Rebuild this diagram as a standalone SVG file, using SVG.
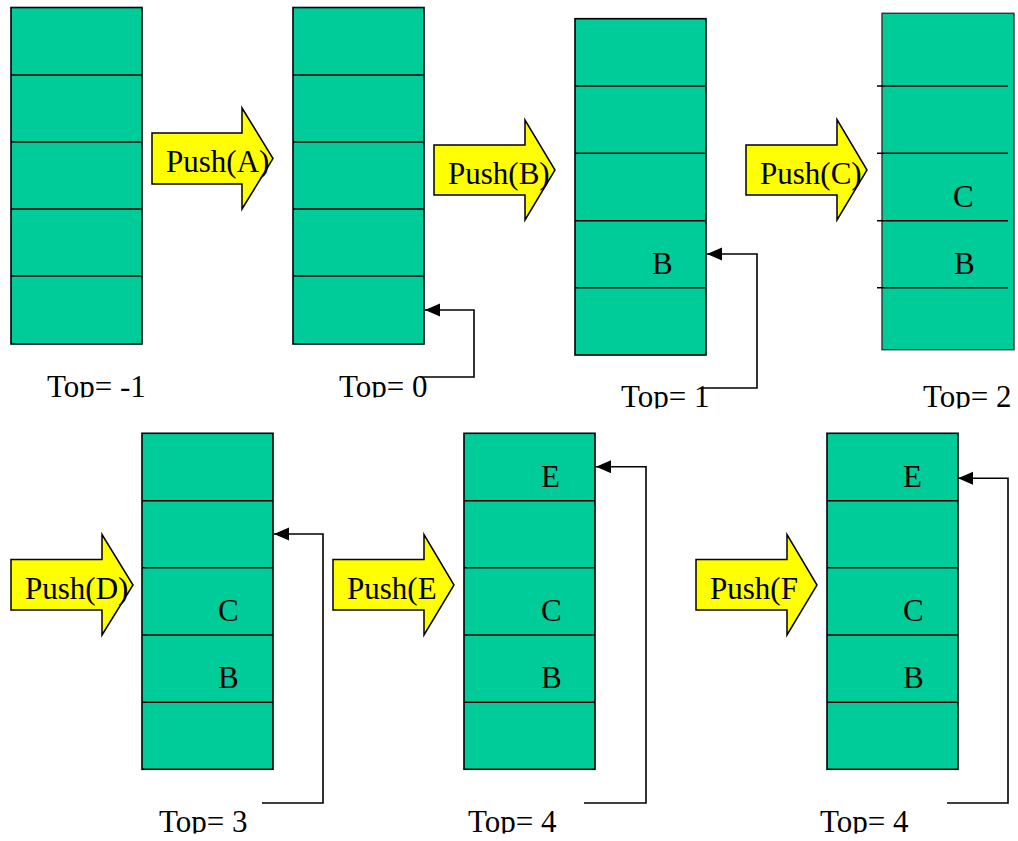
<svg xmlns="http://www.w3.org/2000/svg" width="1018" height="841" viewBox="0 0 1018 841">
<style>
.cell{fill:#00CC99;stroke:#000;stroke-width:1.6}
.div{stroke:#000;stroke-width:1.6}
.push{fill:#FFFF00;stroke:#000;stroke-width:1.5;stroke-linejoin:miter}
text{font-family:'Liberation Serif','Times New Roman',Times,serif;font-size:31px;fill:#000}
.conn{fill:none;stroke:#000;stroke-width:1.6}
</style>
<defs>
<marker id="ah" markerUnits="userSpaceOnUse" markerWidth="16" markerHeight="14" refX="15" refY="6.5" orient="auto">
<path d="M0,0 L15,6.5 L0,13 Z" fill="#000"/>
</marker>
<clipPath id="clipTop1"><rect x="0" y="0" width="1018" height="397.5"/></clipPath>
<clipPath id="clipTop2"><rect x="0" y="0" width="1018" height="408.5"/></clipPath>
<clipPath id="clipBot"><rect x="0" y="0" width="1018" height="833.5"/></clipPath>
</defs>
<rect width="1018" height="841" fill="#fff"/>

<g id="stack1">
<rect class="cell" x="11" y="7.5" width="131" height="336.5"/>
<path class="div" d="M11,75H142M11,142H142M11,209H142M11,276H142"/>
<text font-family="Liberation Serif, serif" x="47" y="397" clip-path="url(#clipTop1)">Top= -1</text>
</g>

<g id="push-a">
<polygon class="push" points="152,133 242,133 242,108 273,158.5 242,209 242,184 152,184"/>
<text font-family="Liberation Serif, serif" x="166" y="172">Push(A)</text>
</g>

<g id="stack2">
<rect class="cell" x="293" y="7.5" width="131" height="336.5"/>
<path class="div" d="M293,75H424M293,142H424M293,209H424M293,276H424"/>
<text font-family="Liberation Serif, serif" x="339" y="397" clip-path="url(#clipTop1)">Top= 0</text>
</g>

<g id="push-b">
<polygon class="push" points="434,145 525,145 525,120 555,170 525,220 525,195 434,195"/>
<text font-family="Liberation Serif, serif" x="448" y="184">Push(B)</text>
</g>

<g id="stack3">
<rect class="cell" x="575" y="18.7" width="131" height="336.3"/>
<path class="div" d="M575,86H706M575,153.3H706M575,220.7H706M575,287.7H706"/>
<text font-family="Liberation Serif, serif" x="652" y="274">B</text>
<text font-family="Liberation Serif, serif" x="621" y="407" clip-path="url(#clipTop2)">Top= 1</text>
</g>

<g id="push-c">
<polygon class="push" points="746,145 837,145 837,119.5 867,170 837,220 837,195 746,195"/>
<text font-family="Liberation Serif, serif" x="760" y="184">Push(C)</text>
</g>

<g id="stack4">
<rect class="cell" x="882" y="13.3" width="132" height="336.4" style="stroke:#333;stroke-width:1.4"/>
<path class="div" d="M877,86H1008M877,153.3H1008M877,220.7H1008M877,287.7H1008"/>
<text font-family="Liberation Serif, serif" x="953" y="207">C</text>
<text font-family="Liberation Serif, serif" x="954" y="274">B</text>
<text font-family="Liberation Serif, serif" x="923" y="407" clip-path="url(#clipTop2)">Top= 2</text>
</g>

<g id="push-d">
<polygon class="push" points="11,559.5 102,559.5 102,534.5 133,585 102,635 102,610 11,610"/>
<text font-family="Liberation Serif, serif" x="25" y="599">Push(D)</text>
</g>

<g id="stack5">
<rect class="cell" x="142" y="433.3" width="131" height="336"/>
<path class="div" d="M142,500.7H273M142,567.7H273M142,635H273M142,702.3H273"/>
<text font-family="Liberation Serif, serif" x="218" y="621">C</text>
<text font-family="Liberation Serif, serif" x="218" y="688.3">B</text>
<text font-family="Liberation Serif, serif" x="159" y="832" clip-path="url(#clipBot)">Top= 3</text>
</g>

<g id="push-e">
<polygon class="push" points="333,559.5 424,559.5 424,534.5 454,585 424,635 424,610 333,610"/>
<text font-family="Liberation Serif, serif" x="347" y="599">Push(E</text>
</g>

<g id="stack6">
<rect class="cell" x="464" y="433.3" width="131" height="336"/>
<path class="div" d="M464,500.7H595M464,567.7H595M464,635H595M464,702.3H595"/>
<text font-family="Liberation Serif, serif" x="541" y="486.7">E</text>
<text font-family="Liberation Serif, serif" x="541" y="621">C</text>
<text font-family="Liberation Serif, serif" x="541" y="688.3">B</text>
<text font-family="Liberation Serif, serif" x="468" y="832" clip-path="url(#clipBot)">Top= 4</text>
</g>

<g id="push-f">
<polygon class="push" points="696,559.5 787,559.5 787,534.5 817,585 787,635 787,610 696,610"/>
<text font-family="Liberation Serif, serif" x="710" y="599">Push(F</text>
</g>

<g id="stack7">
<rect class="cell" x="827" y="433.3" width="131" height="336"/>
<path class="div" d="M827,500.7H958M827,567.7H958M827,635H958M827,702.3H958"/>
<text font-family="Liberation Serif, serif" x="903" y="486.7">E</text>
<text font-family="Liberation Serif, serif" x="903" y="621">C</text>
<text font-family="Liberation Serif, serif" x="903" y="688.3">B</text>
<text font-family="Liberation Serif, serif" x="820" y="832" clip-path="url(#clipBot)">Top= 4</text>
</g>

<g id="connectors">
<polyline class="conn" points="420,377 474,377 474,310 425,310" marker-end="url(#ah)"/>
<polyline class="conn" points="703,388 757,388 757,254 707,254" marker-end="url(#ah)"/>
<polyline class="conn" points="262,803 323,803 323,534 274,534" marker-end="url(#ah)"/>
<polyline class="conn" points="584,803 646,803 646,466.7 596,466.7" marker-end="url(#ah)"/>
<polyline class="conn" points="947,803 1008,803 1008,478.3 958,478.3" marker-end="url(#ah)"/>
</g>
</svg>
